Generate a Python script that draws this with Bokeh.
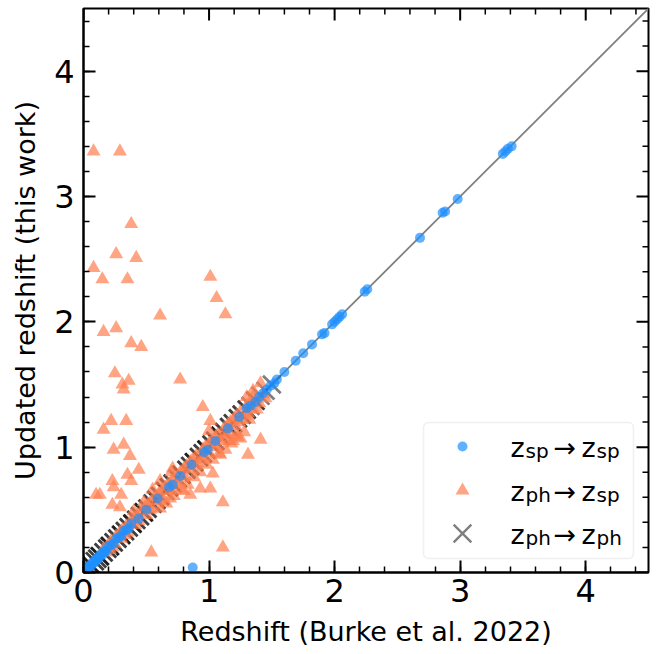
from bokeh.plotting import figure
from bokeh.models import Range1d, SingleIntervalTicker, BoxAnnotation
from bokeh.core.properties import value
from bokeh.embed import file_html
from bokeh.resources import INLINE

# ---------------- data ----------------
diag = [0.0, 4.5]

# z_sp -> z_sp (blue circles)
sp_x = [3.41, 3.38, 3.36, 3.34, 2.98, 2.88, 2.86, 2.68, 2.26, 2.24, 2.06, 2.04, 2.02, 2.00, 1.98,
        1.92, 1.90, 1.82, 1.75, 1.69, 1.60, 1.54, 1.52, 1.49, 1.46, 1.43, 1.40,
        1.37, 1.33, 1.30, 1.24, 1.15, 1.05, 0.99, 0.96, 0.86, 0.77, 0.71, 0.68, 0.59, 0.50,
        0.44, 0.38, 0.36, 0.34, 0.32, 0.30, 0.28, 0.26, 0.24, 0.22, 0.20,
        0.18, 0.17, 0.16, 0.15, 0.14, 0.13, 0.12, 0.11, 0.10, 0.09, 0.08, 0.07, 0.06, 0.05,
        0.04, 0.03, 0.02, 0.87]
sp_y = [3.40, 3.38, 3.36, 3.34, 2.98, 2.88, 2.87, 2.67, 2.26, 2.24, 2.06, 2.04, 2.02, 2.00, 1.98,
        1.91, 1.90, 1.82, 1.75, 1.69, 1.60, 1.54, 1.51, 1.49, 1.46, 1.43, 1.40,
        1.36, 1.33, 1.31, 1.24, 1.15, 1.05, 0.98, 0.96, 0.86, 0.77, 0.70, 0.68, 0.59, 0.50,
        0.43, 0.39, 0.35, 0.34, 0.33, 0.29, 0.28, 0.27, 0.23, 0.22, 0.21,
        0.17, 0.17, 0.17, 0.14, 0.14, 0.14, 0.11, 0.11, 0.11, 0.08, 0.08, 0.08, 0.05, 0.05,
        0.05, 0.03, 0.02, 0.04]

# z_ph -> z_sp (orange triangles)
ph_sp_x = [0.16, 0.18, 0.19, 0.21, 0.22, 0.23, 0.25, 0.26, 0.29, 0.30, 0.31, 0.33, 0.34, 0.35,
           0.37, 0.40, 0.41, 0.43, 0.44, 0.46, 0.49, 0.50, 0.51, 0.53, 0.54, 0.55, 0.57, 0.60,
           0.61, 0.62, 0.63, 0.65, 0.67, 0.69, 0.70, 0.71, 0.72, 0.74, 0.76, 0.77, 0.79, 0.80,
           0.81, 0.82, 0.85, 0.86, 0.87, 0.89, 0.90, 0.91, 0.94, 0.95, 0.96, 0.97, 0.99, 1.00,
           1.02, 1.04, 1.05, 1.06, 1.07, 1.09, 1.11, 1.12, 1.14, 1.15, 1.16, 1.17, 1.20, 1.21,
           1.22, 1.24, 1.25, 1.26, 1.29, 1.30, 1.31, 1.33, 1.35, 1.37, 1.40, 1.43, 1.45,
           0.88, 0.93, 0.98, 1.03, 1.08, 1.13, 1.18, 1.23, 1.28, 0.83, 0.78, 0.72, 0.66, 1.16,
           1.22, 1.19, 1.25, 1.09, 0.93, 0.85, 0.80, 0.69, 0.61, 0.61, 0.55, 0.48, 0.40, 0.70,
           1.00, 1.35, 1.30, 1.32, 1.38, 1.41, 1.35,
           0.08, 0.29, 0.38, 0.26, 0.42, 0.08, 0.15, 0.35, 1.01, 1.06, 1.13, 0.61, 0.16, 0.26,
           0.38, 0.46, 0.25, 0.36, 0.31, 0.32, 0.77, 0.95, 0.22, 0.34, 0.16, 1.01, 0.32, 0.24,
           0.37, 1.41, 1.31, 0.44, 0.35, 0.23, 0.24, 0.38, 0.10, 0.13, 0.30, 0.23, 0.29, 1.11,
           1.03, 1.01, 0.54, 1.11, 0.71]
ph_sp_y = [0.19, 0.16, 0.21, 0.18, 0.25, 0.20, 0.23, 0.29, 0.32, 0.27, 0.34, 0.30, 0.37, 0.32,
           0.40, 0.43, 0.38, 0.46, 0.41, 0.49, 0.52, 0.46, 0.54, 0.50, 0.57, 0.51, 0.60, 0.63,
           0.57, 0.65, 0.59, 0.68, 0.70, 0.65, 0.73, 0.67, 0.75, 0.70, 0.72, 0.80, 0.75, 0.83,
           0.77, 0.85, 0.88, 0.82, 0.90, 0.85, 0.93, 0.87, 0.90, 0.98, 0.92, 1.00, 0.95, 1.03,
           1.05, 1.00, 1.08, 1.02, 1.10, 1.05, 1.07, 1.15, 1.10, 1.18, 1.12, 1.20, 1.23, 1.17,
           1.25, 1.20, 1.28, 1.22, 1.25, 1.33, 1.27, 1.35, 1.30, 1.38, 1.35, 1.42, 1.39,
           0.76, 0.80, 0.86, 0.90, 0.95, 0.98, 1.03, 1.08, 1.12, 0.70, 0.66, 0.61, 0.55, 1.05,
           1.10, 1.05, 1.07, 0.94, 0.67, 0.62, 0.65, 0.59, 0.51, 0.73, 0.66, 0.56, 0.49, 0.80,
           1.13, 1.45, 1.40, 1.22, 1.30, 1.51, 1.40,
           3.36, 3.36, 2.78, 2.54, 2.51, 2.43, 2.34, 2.34, 2.36, 2.19, 2.06, 2.05, 1.92, 1.95,
           1.83, 1.80, 1.59, 1.53, 1.50, 1.46, 1.54, 1.32, 1.21, 1.21, 1.14, 1.21, 1.02, 0.98,
           0.93, 1.06, 0.94, 0.82, 0.78, 0.73, 0.68, 0.73, 0.62, 0.62, 0.62, 0.54, 0.52, 0.56,
           0.79, 0.67, 0.16, 0.20, 0.83]

# z_ph -> z_ph (crosses, on the 1:1 line; many sources coincide)
ph_ph_x = [0.02, 0.02, 0.04, 0.04, 0.06, 0.06, 0.06, 0.09, 0.09, 0.11, 0.11, 0.13, 0.13, 0.13,
           0.16, 0.16, 0.19, 0.19, 0.21, 0.21, 0.21, 0.24, 0.24, 0.27, 0.27, 0.30, 0.30, 0.30,
           0.33, 0.33, 0.36, 0.36, 0.39, 0.39, 0.39, 0.42, 0.42, 0.45, 0.45, 0.48, 0.48, 0.48,
           0.51, 0.51, 0.55, 0.55, 0.58, 0.58, 0.58, 0.61, 0.61, 0.65, 0.65, 0.68, 0.68, 0.68,
           0.71, 0.71, 0.75, 0.75, 0.78, 0.78, 0.78, 0.82, 0.82, 0.85, 0.85, 0.88, 0.88, 0.88,
           0.92, 0.92, 0.95, 0.95, 0.98, 0.98, 0.98, 1.02, 1.02, 1.05, 1.05, 1.09, 1.09, 1.09,
           1.12, 1.12, 1.16, 1.16, 1.19, 1.19, 1.23, 1.23, 1.26, 1.26, 1.30, 1.30, 1.33, 1.37,
           1.37, 1.41, 1.45, 1.50]
ph_ph_y = [0.02, 0.02, 0.04, 0.04, 0.06, 0.06, 0.06, 0.09, 0.09, 0.11, 0.11, 0.13, 0.13, 0.13,
           0.16, 0.16, 0.19, 0.19, 0.21, 0.21, 0.21, 0.24, 0.24, 0.27, 0.27, 0.30, 0.30, 0.30,
           0.33, 0.33, 0.36, 0.36, 0.39, 0.39, 0.39, 0.42, 0.42, 0.45, 0.45, 0.48, 0.48, 0.48,
           0.51, 0.51, 0.55, 0.55, 0.58, 0.58, 0.58, 0.61, 0.61, 0.65, 0.65, 0.68, 0.68, 0.68,
           0.71, 0.71, 0.75, 0.75, 0.78, 0.78, 0.78, 0.82, 0.82, 0.85, 0.85, 0.88, 0.88, 0.88,
           0.92, 0.92, 0.95, 0.95, 0.98, 0.98, 0.98, 1.02, 1.02, 1.05, 1.05, 1.09, 1.09, 1.09,
           1.12, 1.12, 1.16, 1.16, 1.19, 1.19, 1.23, 1.23, 1.26, 1.26, 1.30, 1.30, 1.33, 1.37,
           1.37, 1.41, 1.45, 1.50]

major_ticks = [0, 1, 2, 3, 4]
minor_ticks = [0.2, 0.4, 0.6, 0.8, 1.2, 1.4, 1.6, 1.8, 2.2, 2.4, 2.6, 2.8,
               3.2, 3.4, 3.6, 3.8, 4.2, 4.4]

x_label = "Redshift (Burke et al. 2022)"
y_label = "Updated redshift (this work)"

# ---------------- styles ----------------
FONT = "DejaVu Sans"
BLUE = "dodgerblue"
ORANGE = "coral"

# frame geometry in screen px (used to place hand-drawn legend / mirrored ticks)
L, R, T, B = 83, 648, 8, 572
XMAX = 4.5
PX = XMAX / (R - L)   # data units per px (x)
PY = XMAX / (B - T)   # data units per px (y)


def X(px):
    return (px - L) * PX


def Y(py):
    return (B - py) * PY


p = figure(width=658, height=654, x_range=Range1d(0, XMAX), y_range=Range1d(0, XMAX),
           output_backend="svg", toolbar_location=None,
           min_border_left=L, min_border_right=658 - R, min_border_top=T,
           min_border_bottom=654 - B)
p.xgrid.visible = False
p.ygrid.visible = False
p.outline_line_color = "black"
p.outline_line_width = 2
p.background_fill_color = "white"
p.border_fill_color = "white"

for ax in (p.xaxis[0], p.yaxis[0]):
    ax.ticker = SingleIntervalTicker(interval=1, num_minor_ticks=5)
    ax.axis_line_width = 2
    ax.axis_line_color = "black"
    ax.major_tick_in = 12
    ax.major_tick_out = 0
    ax.minor_tick_in = 6
    ax.minor_tick_out = 0
    ax.major_tick_line_width = 2
    ax.minor_tick_line_width = 1.5
    ax.major_tick_line_color = "black"
    ax.minor_tick_line_color = "black"
    ax.major_label_text_font = FONT
    ax.major_label_text_font_size = "32px"
    ax.major_label_text_color = "black"
    ax.axis_label_text_font = FONT
    ax.axis_label_text_font_size = "27px"
    ax.axis_label_text_font_style = "normal"
    ax.axis_label_text_color = "black"

p.xaxis[0].axis_label = x_label
p.yaxis[0].axis_label = y_label
p.xaxis[0].major_label_standoff = 6
p.yaxis[0].major_label_standoff = 9
p.xaxis[0].axis_label_standoff = 11
p.yaxis[0].axis_label_standoff = 10

# mirrored ticks on the top and right frame edges
top = XMAX
p.segment(x0=major_ticks, y0=[top] * 5, x1=major_ticks, y1=[top - 12 * PY] * 5,
          line_color="black", line_width=2)
p.segment(x0=minor_ticks, y0=[top] * len(minor_ticks), x1=minor_ticks,
          y1=[top - 6 * PY] * len(minor_ticks), line_color="black", line_width=1.5)
p.segment(y0=major_ticks, x0=[top] * 5, y1=major_ticks, x1=[top - 12 * PX] * 5,
          line_color="black", line_width=2)
p.segment(y0=minor_ticks, x0=[top] * len(minor_ticks), y1=minor_ticks,
          x1=[top - 6 * PX] * len(minor_ticks), line_color="black", line_width=1.5)

# 1:1 line
p.line(diag, diag, line_color="gray", line_width=1.8)

# data
p.scatter(ph_ph_x, ph_ph_y, marker="x", size=25, line_color="black", line_alpha=0.5,
          line_width=2.8)
p.scatter(ph_sp_x, ph_sp_y, marker="triangle", size=14, fill_color=ORANGE, fill_alpha=0.7,
          line_color=None)
p.scatter(sp_x, sp_y, marker="circle", size=10, fill_color=BLUE, fill_alpha=0.7, line_color=None)

# legend (drawn by hand to allow subscripts)
box = BoxAnnotation(left=X(423), right=X(633), top=Y(422), bottom=Y(558),
                    fill_color="white", fill_alpha=0.8, line_color="#cccccc", line_width=1.5,
                    border_radius=5)
p.add_layout(box)

rows = [446, 490, 533]
p.scatter([X(462)], [Y(rows[0])], marker="circle", size=10, fill_color=BLUE, fill_alpha=0.7,
          line_color=None, level="overlay")
p.scatter([X(462)], [Y(rows[1])], marker="triangle", size=14, fill_color=ORANGE, fill_alpha=0.7,
          line_color=None, level="overlay")
p.scatter([X(462)], [Y(rows[2])], marker="x", size=25, line_color="black", line_alpha=0.5,
          line_width=2.4, level="overlay")

subs = [("sp", "sp"), ("ph", "sp"), ("ph", "ph")]
zx, zy, sx_, sy_, st = [], [], [], [], []
ax_, ay_ = [], []
for r, (a, b) in zip(rows, subs):
    base = r + 1
    zx += [X(510), X(581)]
    zy += [Y(base), Y(base)]
    sx_ += [X(525), X(596)]
    sy_ += [Y(base + 3), Y(base + 3)]
    st += [a, b]
    ax_.append(X(553))
    ay_.append(Y(base))

p.text(zx, zy, text=["z"] * len(zx), text_font=value(FONT), text_font_size=value("27px"),
       text_baseline="alphabetic", text_align="left", text_color="black", level="overlay")
p.text(sx_, sy_, text=st, text_font=value(FONT), text_font_size=value("20px"),
       text_baseline="alphabetic", text_align="left", text_color="black", level="overlay")
p.text(ax_, ay_, text=["\u2192"] * len(ax_), text_font=value(FONT), text_font_size=value("27px"),
       text_baseline="alphabetic", text_align="left", text_color="black", level="overlay")

open("out.html", "w").write(file_html(p, INLINE))
